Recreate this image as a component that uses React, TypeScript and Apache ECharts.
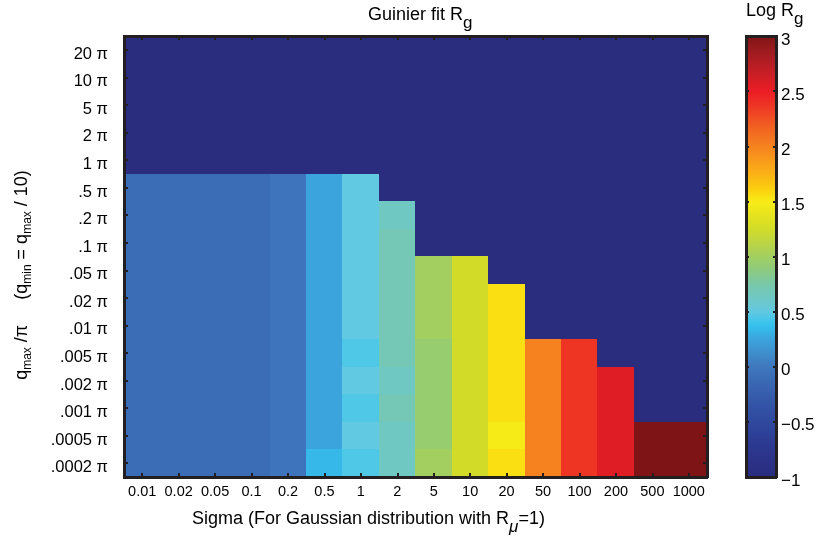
import React, { useEffect, useRef } from 'react';
import * as echarts from 'echarts';

// X categories (Sigma) and Y categories (q_max / π), top row first
const sigmaLabels = ['0.01', '0.02', '0.05', '0.1', '0.2', '0.5', '1', '2', '5', '10', '20', '50', '100', '200', '500', '1000'];
const qmaxLabels = ['20 π', '10 π', '5 π', '2 π', '1 π', '.5 π', '.2 π', '.1 π', '.05 π', '.02 π', '.01 π', '.005 π', '.002 π', '.001 π', '.0005 π', '.0002 π'];

// Log Rg values, one array per q_max row (−1 = bottom of scale / no fit)
const B = -1;
const row20pi = [B, B, B, B, B, B, B, B, B, B, B, B, B, B, B, B];
const row10pi = [B, B, B, B, B, B, B, B, B, B, B, B, B, B, B, B];
const row5pi = [B, B, B, B, B, B, B, B, B, B, B, B, B, B, B, B];
const row2pi = [B, B, B, B, B, B, B, B, B, B, B, B, B, B, B, B];
const row1pi = [B, B, B, B, B, B, B, B, B, B, B, B, B, B, B, B];
const rowP5pi = [-0.11, -0.11, -0.11, -0.11, -0.04, 0.25, 0.5, B, B, B, B, B, B, B, B, B];
const rowP2pi = [-0.11, -0.11, -0.11, -0.11, -0.04, 0.25, 0.5, 0.63, B, B, B, B, B, B, B, B];
const rowP1pi = [-0.11, -0.11, -0.11, -0.11, -0.04, 0.25, 0.5, 0.69, B, B, B, B, B, B, B, B];
const rowP05pi = [-0.11, -0.11, -0.11, -0.11, -0.04, 0.25, 0.5, 0.69, 1.0, 1.25, B, B, B, B, B, B];
const rowP02pi = [-0.11, -0.11, -0.11, -0.11, -0.04, 0.25, 0.5, 0.69, 1.0, 1.25, 1.55, B, B, B, B, B];
const rowP01pi = [-0.11, -0.11, -0.11, -0.11, -0.04, 0.25, 0.5, 0.69, 1.0, 1.25, 1.55, B, B, B, B, B];
const rowP005pi = [-0.11, -0.11, -0.11, -0.11, -0.04, 0.25, 0.45, 0.69, 0.94, 1.25, 1.55, 2.0, 2.37, B, B, B];
const rowP002pi = [-0.11, -0.11, -0.11, -0.11, -0.04, 0.25, 0.5, 0.63, 0.94, 1.25, 1.55, 2.0, 2.37, 2.56, B, B];
const rowP001pi = [-0.11, -0.11, -0.11, -0.11, -0.04, 0.25, 0.45, 0.69, 0.94, 1.25, 1.55, 2.0, 2.37, 2.56, B, B];
const rowP0005pi = [-0.11, -0.11, -0.11, -0.11, -0.04, 0.25, 0.5, 0.63, 0.94, 1.25, 1.49, 2.0, 2.37, 2.56, 3.0, 3.0];
const rowP0002pi = [-0.11, -0.11, -0.11, -0.11, -0.04, 0.33, 0.45, 0.63, 1.0, 1.25, 1.55, 2.0, 2.37, 2.56, 3.0, 3.0];

const rows = [row20pi, row10pi, row5pi, row2pi, row1pi, rowP5pi, rowP2pi, rowP1pi, rowP05pi, rowP02pi, rowP01pi, rowP005pi, rowP002pi, rowP001pi, rowP0005pi, rowP0002pi];

// colour scale Log Rg from -1 to 3 (evenly spaced stops, step 0.125)
const cmapColors = [
  '#2A2C7E', '#2B3186', '#2C378E', '#2D3F96', '#2F489E', '#3252A5', '#365DAC', '#3A6AB5',
  '#3F78BE', '#3F8ECC', '#3BA4DD', '#33C3EE', '#62C9E2', '#70C8C4', '#78C8A8', '#8CCB80',
  '#A3CF60', '#BCD545', '#D2DC28', '#E6E31E', '#F9EC16', '#FCCB0E', '#FBB216', '#F89A1C',
  '#F5821F', '#F36A21', '#F05023', '#EE3424', '#EC1C24', '#D01F26', '#B51D23', '#9A1A1E',
  '#7E1416',
];
const scaleMin = -1;
const scaleMax = 3;
const scaleStep = 0.5;

const FONT = "'Liberation Sans', Arial, Helvetica, sans-serif";
const INK = '#231F20';

export default function App() {
  const ref = useRef<HTMLDivElement>(null);
  useEffect(() => {
    const chart = echarts.init(ref.current!, null, { renderer: 'svg' });
    const data: number[][] = [];
    rows.forEach((row, yi) => row.forEach((v, xi) => data.push([xi, yi, v])));

    const axisLine = { show: true, onZero: false, lineStyle: { color: INK, width: 2.5 } };
    const tickIn = { show: true, inside: true, length: 4, alignWithLabel: true, lineStyle: { color: INK, width: 2 } };
    const main = { fontSize: 18, fontFamily: FONT, fill: '#000', lineHeight: 22, verticalAlign: 'top' };
    const sub = (size: number, drop: number, italic = false) => ({
      fontSize: size, fontFamily: FONT, fill: '#000', lineHeight: size + 2, verticalAlign: 'top',
      padding: [drop, 0, 0, 0], fontStyle: italic ? 'italic' : 'normal',
    });

    chart.setOption({
      animation: false,
      grid: [
        { left: 124, right: 115, top: 36, bottom: 65, show: true, backgroundColor: '#2A2C7E', borderWidth: 0 },
        { left: 746, top: 36, width: 30, height: 441 },
      ],
      xAxis: [
        {
          gridIndex: 0, type: 'category', data: sigmaLabels, position: 'bottom', z: 5,
          axisLine, axisTick: tickIn, splitLine: { show: false },
          axisLabel: { interval: 0, fontSize: 14.5, fontFamily: FONT, color: '#000', margin: 6 },
        },
        {
          gridIndex: 0, type: 'category', data: sigmaLabels, position: 'top', z: 5,
          axisLine, axisTick: tickIn, axisLabel: { show: false }, splitLine: { show: false },
        },
        {
          gridIndex: 1, type: 'value', min: 0, max: 1, position: 'bottom', z: 5,
          axisLine, axisTick: { show: false }, axisLabel: { show: false }, splitLine: { show: false },
        },
        {
          gridIndex: 1, type: 'value', min: 0, max: 1, position: 'top', z: 5,
          axisLine, axisTick: { show: false }, axisLabel: { show: false }, splitLine: { show: false },
        },
      ],
      yAxis: [
        {
          gridIndex: 0, type: 'category', data: qmaxLabels, inverse: true, position: 'left', z: 5,
          axisLine, axisTick: tickIn, splitLine: { show: false },
          axisLabel: {
            interval: 0, fontSize: 16.5, fontFamily: FONT, color: '#000', margin: 16,
            verticalAlign: 'top', lineHeight: 6,
          },
        },
        {
          gridIndex: 0, type: 'category', data: qmaxLabels, inverse: true, position: 'right', z: 5,
          axisLine, axisTick: tickIn, axisLabel: { show: false }, splitLine: { show: false },
        },
        {
          gridIndex: 1, type: 'value', min: scaleMin, max: scaleMax, interval: scaleStep, position: 'right', z: 5,
          axisLine, axisTick: { show: true, inside: true, length: 3, lineStyle: { color: INK, width: 2 } },
          splitLine: { show: false },
          axisLabel: {
            fontSize: 17, fontFamily: FONT, color: '#000', margin: 5, verticalAlign: 'top', lineHeight: 6,
            formatter: (v: number) => String(v).replace('-', '−'),
          },
        },
        {
          gridIndex: 1, type: 'value', min: scaleMin, max: scaleMax, interval: scaleStep, position: 'left', z: 5,
          axisLine, axisTick: { show: true, inside: true, length: 3, lineStyle: { color: INK, width: 2 } },
          axisLabel: { show: false }, splitLine: { show: false },
        },
      ],
      visualMap: {
        type: 'continuous', min: scaleMin, max: scaleMax, seriesIndex: 0, calculable: false, hoverLink: false,
        orient: 'vertical', left: 746, top: 36, itemWidth: 30, itemHeight: 441, padding: 0,
        inRange: { color: cmapColors },
      },
      series: [
        {
          type: 'heatmap', xAxisIndex: 0, yAxisIndex: 0, data, progressive: 0,
          itemStyle: { borderWidth: 0 }, emphasis: { disabled: true },
        },
      ],
      graphic: [
        {
          type: 'text', x: 368, y: 5, z: 10,
          style: { text: '{m|Guinier fit R}{s|g}', rich: { m: main, s: sub(17, 9) } },
        },
        {
          type: 'text', x: 746, y: 1, z: 10,
          style: { text: '{m|Log R}{s|g}', rich: { m: main, s: sub(17, 9) } },
        },
        {
          type: 'text', x: 192, y: 509, z: 10,
          style: { text: '{m|Sigma (For Gaussian distribution with R}{s|μ}{m|=1)}', rich: { m: main, s: sub(17, 9, true) } },
        },
        {
          type: 'text', x: 23, y: 275, rotation: Math.PI / 2, z: 10,
          style: {
            text: '{m|q}{s|max}{m| /π\u00A0\u00A0\u00A0\u00A0 (q}{s|min}{m| = q}{s|max}{m| / 10)}',
            align: 'center', verticalAlign: 'middle',
            rich: { m: main, s: sub(12, 9) },
          },
        },
      ],
    });
    return () => chart.dispose();
  }, []);
  return (
    <>
      <style>{'#root svg path { shape-rendering: crispEdges; }'}</style>
      <div ref={ref} style={{ position: 'fixed', left: 0, top: 0, width: 822, height: 542 }} />
    </>
  );
}
